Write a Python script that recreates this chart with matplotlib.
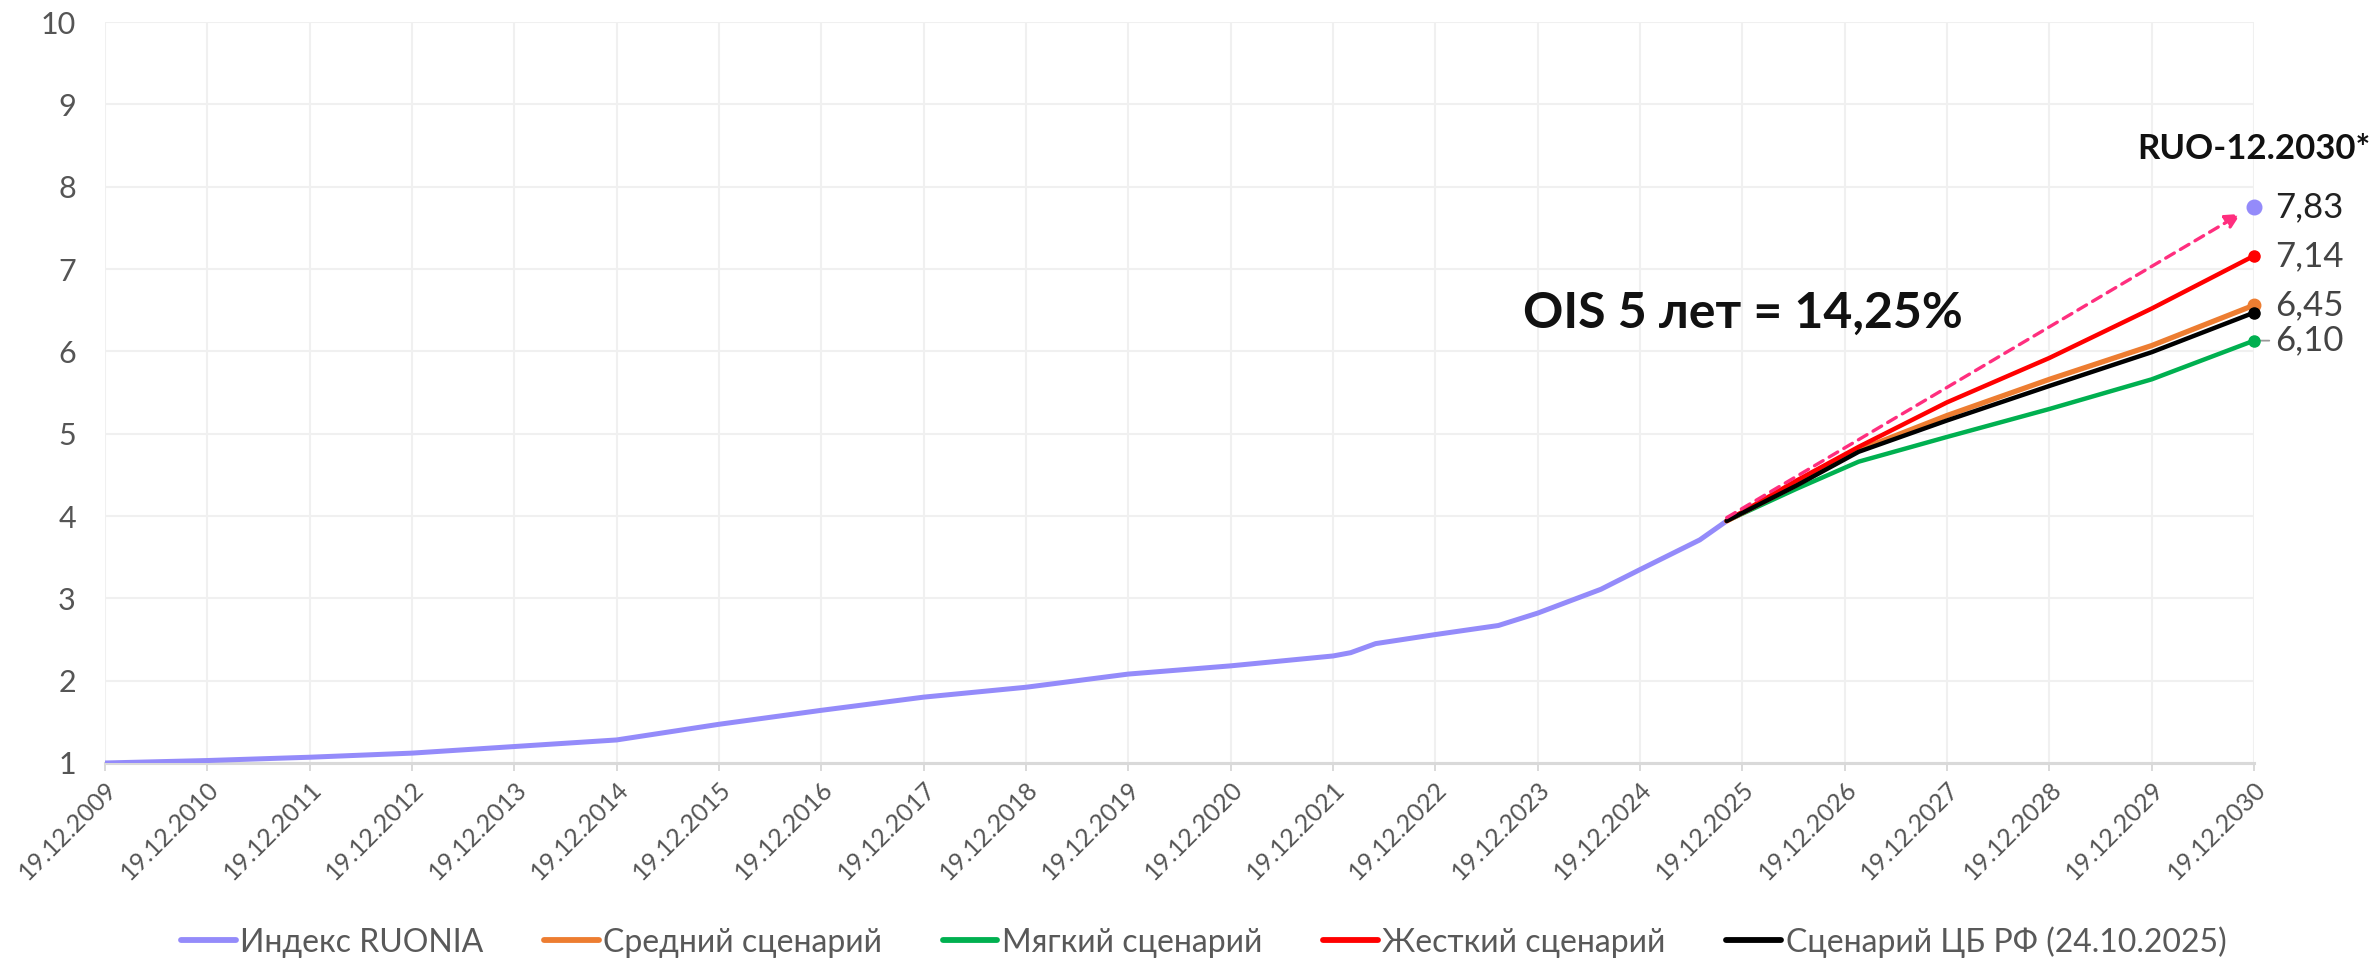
import numpy as np
import pandas as pd
import matplotlib
matplotlib.use("Agg")
import matplotlib.pyplot as plt
import matplotlib.dates as mdates
from matplotlib.lines import Line2D

# RUONIA index
ruonia_dates = ["2009-12-19", "2010-12-19", "2011-12-19", "2012-12-19", "2013-12-19",
                "2014-12-19", "2015-12-19", "2016-12-19", "2017-12-19", "2018-12-19",
                "2019-12-19", "2020-12-19", "2021-12-19", "2022-02-20", "2022-05-20",
                "2022-12-19", "2023-08-01", "2023-12-19", "2024-08-01", "2024-12-19",
                "2025-07-20", "2025-10-24"]
ruonia_vals = [1.00, 1.03, 1.07, 1.12, 1.20,
               1.28, 1.47, 1.64, 1.80, 1.92,
               2.08, 2.18, 2.30, 2.34, 2.45,
               2.56, 2.67, 2.82, 3.11, 3.35,
               3.71, 3.94]

# scenarios (24.10.2025 -> 19.12.2030)
scen_dates = ["2025-10-24", "2026-06-30", "2027-02-07", "2027-12-19",
              "2028-12-19", "2029-12-19", "2030-12-19"]
mid_vals = [3.94, 4.38, 4.80, 5.22, 5.66, 6.07, 6.56]
soft_vals = [3.94, 4.33, 4.66, 4.96, 5.30, 5.66, 6.13]
hard_vals = [3.94, 4.43, 4.84, 5.38, 5.92, 6.52, 7.16]
cbr_vals = [3.94, 4.37, 4.78, 5.16, 5.58, 5.99, 6.47]

# RUO forward point and OIS arrow
ruo_fwd_date = "2030-12-19"
ruo_fwd_val = 7.75
arrow_dates = ["2025-10-24", "2030-11-01"]
arrow_vals = [3.98, 7.67]

end_labels = ["7,83", "7,14", "6,45", "6,10"]

legend_labels = ["Индекс RUONIA", "Средний сценарий", "Мягкий сценарий",
                 "Жесткий сценарий", "Сценарий ЦБ РФ (24.10.2025)"]

c_ruo = "#948BFA"
c_mid = "#ED7D31"
c_soft = "#00B050"
c_hard = "#FF0000"
c_cbr = "#000000"
c_pink = "#FF2E7E"

plt.rcParams["font.family"] = ["Lato", "Noto Sans", "DejaVu Sans"]

fig = plt.figure(figsize=(23.79, 9.6), dpi=100)
ax = fig.add_axes([0.04414, 0.20521, 0.90332, 0.77187])

rd = pd.to_datetime(ruonia_dates)
sd = pd.to_datetime(scen_dates)
kw = dict(solid_joinstyle="round", solid_capstyle="round")
ax.plot(rd, ruonia_vals, color=c_ruo, lw=3.6, zorder=3, **kw)
ax.plot(sd, soft_vals, color=c_soft, lw=3.2, zorder=4, **kw)
ax.plot(sd, mid_vals, color=c_mid, lw=3.8, zorder=4, **kw)
ax.plot(sd, hard_vals, color=c_hard, lw=3.2, zorder=4, **kw)
ax.plot(sd, cbr_vals, color=c_cbr, lw=3.2, zorder=5, **kw)

# end dots
end_d = sd[-1]
for vals, c, ms in [(soft_vals, c_soft, 8), (mid_vals, c_mid, 9), (hard_vals, c_hard, 8), (cbr_vals, c_cbr, 8)]:
    ax.plot([end_d], [vals[-1]], "o", color=c, ms=ms, zorder=6, clip_on=False)
fwd_d = pd.Timestamp(ruo_fwd_date)
ax.plot([fwd_d], [ruo_fwd_val], "o", color=c_ruo, ms=10.5, zorder=6, clip_on=False)

# dashed arrow
ad = pd.to_datetime(arrow_dates)
ax.annotate("", xy=(ad[1], arrow_vals[1]), xytext=(ad[0], arrow_vals[0]),
            arrowprops=dict(arrowstyle="-|>", color=c_pink, lw=2.4, linestyle=(0, (3, 2.1)),
                            mutation_scale=22, shrinkA=0, shrinkB=0), zorder=7)

# value labels at the right
label_vals = [ruo_fwd_val, hard_vals[-1], mid_vals[-1], soft_vals[-1]]
label_cols = ["#222222", "#444444", "#444444", "#444444"]
for txt, v, c in zip(end_labels, label_vals, label_cols):
    ax.annotate(txt, xy=(end_d, v), xytext=(15, 0), textcoords="offset points",
                ha="left", va="center", fontsize=25, color=c,
                annotation_clip=False)
ax.annotate("", xy=(end_d, soft_vals[-1]), xytext=(11, 0), textcoords="offset points",
            arrowprops=dict(arrowstyle="-", color="#999999", lw=1.3, shrinkA=0, shrinkB=0),
            annotation_clip=False, zorder=5)

ax.text(end_d, 8.33, "RUO-12.2030*", ha="center", va="baseline", fontsize=25,
        fontweight="bold", color="#111111", clip_on=False)
ax.text(pd.Timestamp("2025-12-19"), 6.29, "OIS 5 лет = 14,25%", ha="center", va="baseline",
        fontsize=36, fontweight="bold", color="#111111")

# axes
ticks = [pd.Timestamp(f"{y}-12-19") for y in range(2009, 2031)]
ax.set_xlim(ticks[0], ticks[-1])
ax.set_ylim(1, 10)
ax.set_xticks(ticks)
ax.xaxis.set_major_formatter(mdates.DateFormatter("%d.%m.%Y"))
ax.set_yticks(np.arange(1, 11))
for lab in ax.get_xticklabels():
    lab.set_rotation(45)
    lab.set_ha("right")
    lab.set_rotation_mode("anchor")
ax.tick_params(axis="x", length=6, width=1.4, color="#d9d9d9", pad=4,
               labelsize=18, labelcolor="#555555")
ax.tick_params(axis="y", length=0, pad=21, labelsize=22, labelcolor="#555555")

ax.grid(True, color="#f0f0f0", lw=1.5, zorder=0)
ax.set_axisbelow(True)
for s in ["top", "right", "left"]:
    ax.spines[s].set_visible(False)
ax.spines["bottom"].set_color("#d9d9d9")
ax.spines["bottom"].set_linewidth(2.2)

handles = [Line2D([], [], color=c, lw=4.2, solid_capstyle="round") for c in [c_ruo, c_mid, c_soft, c_hard, c_cbr]]
fig.legend(handles, legend_labels, loc="center", bbox_to_anchor=(0.506, 0.019), ncol=5,
           frameon=False, prop=dict(size=23), labelcolor="#595959",
           handlelength=1.7, handletextpad=0.15, columnspacing=1.9)

fig.savefig("out.png", dpi=100)
